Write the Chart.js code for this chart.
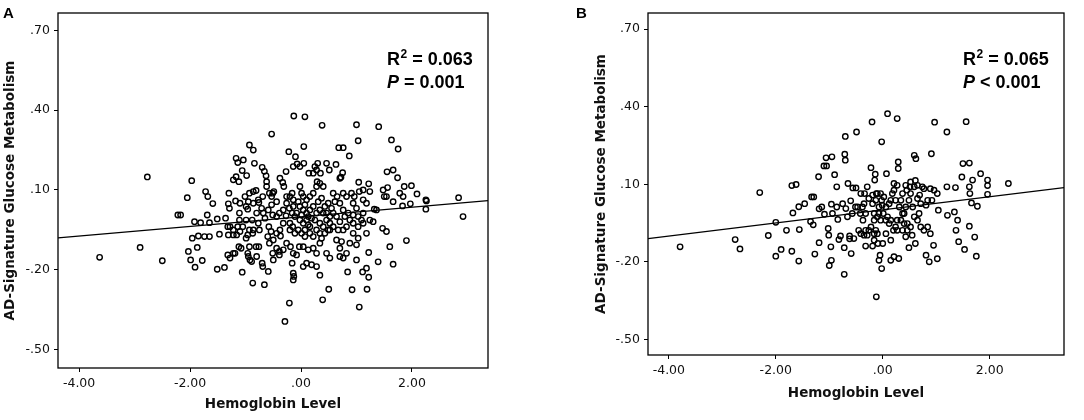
<!DOCTYPE html>
<html>
<head>
<meta charset="utf-8">
<script src="https://cdn.jsdelivr.net/npm/chart.js@4.4.0/dist/chart.umd.min.js"></script>
<style>
  html, body { margin: 0; padding: 0; background: #fff; }
  #wrap { position: relative; width: 1084px; height: 420px; }
  .panel { position: absolute; top: 0; width: 540px; height: 420px; }
</style>
</head>
<body>
<div id="wrap">
  <div class="panel" style="left:0"><canvas id="chartA" width="540" height="420"></canvas></div>
  <div class="panel" style="left:544px"><canvas id="chartB" width="540" height="420"></canvas></div>
</div>
<script>
// tick positions (same for both panels)
const xTicks = [-4, -2, 0, 2];
const yTicks = [0.7, 0.4, 0.1, -0.2, -0.5];

// panel A: hemoglobin level vs AD-signature glucose metabolism
const hbA = [
  -3.63,-2.90,-2.50,-2.77,-1.97,-2.05,-2.22,-2.17,-1.92,-1.81,
  -1.65,-1.51,-1.36,-1.96,-1.85,-1.74,-1.65,-2.03,-1.87,-1.99,
  -1.78,-1.91,-1.51,-1.38,-1.72,-1.68,-1.59,-1.69,-1.47,-1.30,
  -1.31,-1.29,-1.32,-1.28,-1.22,-1.31,-1.22,-1.32,-1.28,-1.22,
  -1.18,-1.17,-1.14,-1.12,-1.17,-1.22,-1.11,-1.11,-1.14,-1.05,
  -1.10,-1.16,-1.12,-1.08,-1.19,-1.06,-0.87,-0.66,-1.04,-1.06,
  -0.93,-0.86,-0.84,-0.98,-0.93,-0.95,-0.99,-0.96,-0.86,-0.81,
  -0.77,-0.99,-0.88,-0.93,-0.86,-0.77,-0.75,-0.96,-0.99,-0.87,
  -0.93,-0.96,-0.92,-0.89,-0.81,-0.76,-0.95,-0.80,-0.70,-0.69,
  -0.76,-0.69,-0.71,-0.68,-0.65,-0.70,-0.63,-0.62,-0.66,-0.53,
  -0.62,-0.57,-0.53,-0.51,-0.49,-0.59,-0.51,-0.44,-0.39,-0.32,
  -0.58,-0.54,-0.50,-0.44,-0.37,-0.60,-0.57,-0.51,-0.44,-0.39,
  -0.32,-0.59,-0.50,-0.39,-0.38,-0.33,-0.27,-0.31,-0.26,-0.21,
  -0.27,-0.20,-0.22,-0.16,-0.10,-0.14,-0.07,-0.20,-0.14,-0.16,
  -0.11,-0.08,-0.20,-0.15,-0.11,-0.05,-0.26,-0.19,-0.14,-0.08,
  -0.03,-0.21,-0.29,-0.14,-0.13,-0.14,-0.13,-0.16,0.07,0.05,
  -0.02,0.05,0.14,0.22,0.25,0.28,-0.02,0.01,0.04,0.10,
  0.16,0.22,0.28,0.34,0.40,-0.02,0.04,0.10,0.16,0.22,
  0.28,0.34,0.40,0.46,-0.02,0.04,0.10,0.16,0.25,0.34,
  0.40,0.46,0.52,0.01,0.07,0.16,0.22,0.34,0.43,0.52,
  0.04,0.13,0.22,0.28,0.34,0.46,0.52,0.04,0.10,0.19,
  0.28,0.34,0.38,0.39,0.50,0.29,0.30,0.46,0.51,0.35,
  0.63,0.68,0.76,0.87,0.75,0.72,0.70,0.58,0.65,0.76,
  0.82,0.91,0.96,1.05,1.12,1.18,0.58,0.64,0.76,0.85,
  0.94,1.03,1.12,0.58,0.67,0.76,0.88,0.94,1.03,1.12,
  0.64,0.73,0.88,1.00,1.03,0.70,0.70,0.76,0.82,1.00,
  0.84,0.92,1.05,1.11,1.18,1.19,1.22,1.00,1.03,1.04,
  1.12,1.22,1.24,1.32,1.36,1.24,1.30,1.18,1.22,1.39,
  1.40,1.63,1.75,1.55,1.66,1.74,1.56,1.48,1.50,1.54,
  1.66,1.78,1.86,1.84,1.99,2.09,1.97,1.83,2.25,2.26,
  2.25,2.84,2.92,1.47,1.54,1.60,1.66,1.90,
  -0.05,0.07,0.13,0.19,0.31,0.37,0.43,0.49,0.55,0.01,
  0.07,0.13,0.28,0.37,0.49,0.52,0.61,0.70,0.79,0.70,
  0.82,0.94,1.00,1.09,0.94,-0.14,-0.26,-0.32,-0.38,-0.44,
  -0.53,-0.80,-0.86,-1.01,-1.10
];
const glucA = [
  -0.153,-0.116,-0.166,0.149,0.135,0.071,0.006,0.006,-0.019,-0.023,
  -0.023,-0.009,-0.006,-0.081,-0.073,-0.075,-0.075,-0.131,-0.116,-0.163,
  -0.165,-0.190,-0.198,-0.191,0.094,0.075,0.049,0.006,-0.066,0.088,
  0.048,0.031,-0.038,-0.038,-0.050,-0.069,-0.069,-0.144,-0.156,-0.138,
  0.059,0.219,0.203,0.131,0.150,0.138,0.013,-0.013,-0.038,-0.038,
  -0.056,-0.069,-0.113,-0.119,-0.138,-0.209,-0.250,-0.256,0.213,0.173,
  0.269,0.250,0.200,0.154,0.088,0.056,0.038,0.028,0.094,0.098,
  0.063,-0.013,-0.013,-0.050,-0.050,-0.025,-0.050,-0.069,-0.081,-0.063,
  -0.113,-0.138,-0.163,-0.169,-0.113,-0.113,-0.150,-0.150,-0.175,-0.188,
  0.053,0.075,0.031,0.013,-0.006,0.185,0.153,0.131,0.170,0.310,
  0.113,0.088,0.075,0.088,0.094,0.025,0.006,0.000,0.013,0.025,
  -0.038,-0.056,-0.088,-0.063,-0.073,-0.075,-0.100,-0.138,-0.119,-0.131,
  -0.125,-0.206,-0.163,-0.144,0.144,0.128,0.169,0.113,0.050,0.031,
  0.003,-0.025,0.244,0.088,0.225,0.188,0.198,0.075,0.063,0.013,
  0.000,0.013,-0.050,-0.038,-0.063,-0.050,-0.100,-0.113,-0.138,-0.144,
  -0.113,-0.325,-0.394,-0.213,-0.225,-0.238,0.378,-0.175,0.375,0.263,
  0.188,0.200,0.163,0.163,0.188,0.175,0.113,0.088,0.075,0.063,
  0.075,0.088,0.113,0.125,0.113,0.038,0.025,0.013,0.025,0.038,
  0.013,0.025,0.013,0.013,-0.013,-0.025,-0.013,-0.038,-0.013,-0.025,
  -0.038,-0.013,-0.025,-0.063,-0.075,-0.063,-0.075,-0.063,-0.063,-0.050,
  -0.113,-0.125,-0.119,-0.138,-0.100,-0.138,-0.156,-0.188,-0.175,-0.181,
  -0.188,-0.220,0.343,-0.313,-0.273,0.131,0.200,0.200,0.175,0.163,
  0.196,0.259,0.259,0.228,0.165,0.148,0.144,0.088,0.075,0.088,
  0.075,0.088,0.075,0.094,0.063,0.050,0.013,0.000,0.025,0.013,
  0.006,0.000,0.013,-0.038,-0.050,-0.050,-0.013,-0.025,-0.038,-0.025,
  -0.088,-0.094,-0.100,-0.106,-0.081,-0.119,-0.150,-0.156,-0.138,-0.163,
  -0.208,-0.275,-0.340,-0.208,-0.194,-0.273,-0.228,0.345,0.285,0.129,
  0.100,0.123,0.094,0.028,0.025,-0.013,-0.019,-0.063,-0.135,-0.170,
  0.338,0.288,0.254,0.168,0.175,0.146,0.109,0.100,0.075,0.075,
  0.056,0.088,0.113,0.075,0.116,0.085,0.048,0.040,0.063,0.059,
  0.028,0.071,0.000,-0.044,-0.056,-0.113,-0.179,-0.090,
  0.056,0.044,0.000,-0.006,0.056,0.069,0.038,0.050,0.031,0.006,
  -0.050,-0.031,-0.050,-0.081,-0.050,0.000,0.056,0.050,0.000,-0.019,
  -0.038,0.050,0.031,-0.013,-0.063,0.038,0.075,-0.025,-0.050,0.056,
  0.044,0.013,0.050,0.075,0.050
];

// panel B
const hbB = [
  -3.79,-2.76,-2.67,-2.30,-2.14,-2.00,-2.00,-1.90,-1.80,-1.70,
  -1.70,-1.62,-1.68,-1.57,-1.56,-1.57,-1.46,-1.27,-1.33,-1.29,
  -1.35,-1.30,-1.20,-1.19,-1.19,-1.14,-1.10,-1.05,-1.06,-0.95,
  -1.09,-1.02,-1.01,-1.00,-0.96,-0.97,-0.96,-0.94,-0.90,-0.86,
  -0.86,-0.84,-0.82,-0.79,-0.72,-0.70,-0.71,-0.70,-0.65,-0.60,
  -0.62,-0.62,-0.59,-0.54,-0.56,-0.50,-0.49,-0.41,-0.35,-0.34,
  -0.32,-0.32,-0.29,-0.22,-0.20,-0.19,-0.19,-0.16,-0.16,-0.14,
  -0.15,-0.12,-0.10,-0.07,-0.05,-0.02,-0.02,-0.02,0.00,0.02,
  0.09,0.07,0.15,0.27,0.29,0.29,0.21,0.27,0.21,0.30,
  0.34,0.37,0.40,0.46,0.49,0.52,0.59,0.62,0.61,0.65,
  0.55,0.61,0.69,0.71,0.77,0.81,0.84,0.89,0.91,0.95,
  0.97,0.81,0.87,0.92,0.96,1.02,1.04,1.02,1.20,1.20,
  1.21,1.34,1.36,1.37,1.40,1.42,1.48,1.50,1.53,1.56,
  1.62,1.62,1.63,1.66,1.62,1.68,1.72,1.75,1.77,1.83,
  1.96,1.96,1.96,2.35,-0.12,-0.72,
  -0.47,-0.42,-0.37,-0.45,-0.41,-0.35,-0.29,-0.26,-0.22,-0.16,
  -0.13,-0.10,-0.07,-0.04,0.01,0.06,0.09,0.12,0.15,0.20,
  0.24,0.27,0.15,0.18,0.24,0.31,0.37,0.43,0.49,0.52,
  0.56,0.59,0.65,0.68,0.71,0.77,0.74,0.84,0.89,0.51,
  0.45,0.12,0.06,-0.01,-0.07,-0.13,-0.19,-0.26,-0.32,-0.38,
  -0.10,-0.04,-0.16,-0.09,0.06,0.15,0.27,0.37,0.43,0.46,
  0.52,0.34,0.40,
  0.21,0.43,0.59,0.65,-0.75,-0.69,-0.57,-0.51,-0.66
];
const glucB = [
  -0.142,-0.114,-0.150,0.068,-0.098,-0.047,-0.178,-0.152,-0.078,-0.159,
  0.095,0.099,-0.011,-0.197,-0.075,0.013,0.025,-0.170,0.051,0.051,
  -0.044,-0.057,0.129,0.005,-0.126,0.012,0.171,0.171,0.202,0.206,
  -0.016,-0.071,-0.097,-0.214,-0.194,-0.142,0.023,-0.013,0.137,0.090,
  0.012,-0.036,-0.114,-0.100,-0.145,0.285,0.216,0.193,0.103,0.036,
  -0.100,-0.111,-0.168,-0.110,0.086,0.086,0.302,0.064,0.025,0.064,
  -0.078,-0.139,0.090,0.164,0.341,-0.139,0.025,-0.013,-0.039,0.139,
  0.116,0.064,-0.091,-0.194,-0.174,-0.226,0.264,0.038,-0.129,0.051,
  0.373,0.141,-0.194,0.354,0.186,0.161,0.103,0.096,-0.180,-0.187,
  0.038,0.064,-0.013,-0.078,-0.145,0.109,0.212,0.199,0.115,0.045,
  -0.097,-0.129,0.058,0.025,0.083,0.019,-0.065,-0.091,0.218,-0.136,
  0.340,-0.174,-0.200,0.038,0.077,0.064,0.000,-0.188,0.302,0.090,
  -0.020,-0.007,0.087,-0.078,-0.039,-0.122,0.128,0.180,-0.152,0.342,
  0.182,0.090,0.064,0.028,-0.062,0.116,-0.104,-0.178,0.015,0.141,
  0.116,0.095,0.061,0.103,-0.335,-0.248,
  0.012,-0.013,-0.039,-0.078,-0.091,-0.097,-0.097,-0.078,-0.065,-0.091,
  -0.078,-0.026,-0.013,-0.039,-0.013,-0.039,-0.026,-0.052,-0.039,-0.078,
  -0.065,-0.039,0.038,0.064,0.038,0.012,-0.013,0.012,0.038,0.064,
  0.012,-0.026,-0.039,-0.013,-0.065,-0.078,0.090,0.038,0.083,0.090,
  0.077,0.025,0.012,0.019,0.012,0.038,0.058,0.045,-0.013,0.012,
  0.064,0.064,-0.116,-0.129,-0.091,-0.116,-0.078,-0.078,-0.103,-0.052,
  -0.065,-0.039,-0.052,
  0.077,0.096,0.090,0.096,0.025,0.006,-0.013,0.012,-0.026
];

// fitted lines: [intercept, slope]
const fitA = [-0.001, 0.018];
const fitB = [0.001, 0.0253];

const xRangeA = [-4.38, 3.37], yRangeA = [-0.569, 0.765];
const xRangeB = [-4.39, 3.39], yRangeB = [-0.560, 0.762];

function fmtTick(v) {
  let s = Math.abs(v).toFixed(2);
  if (s[0] === '0') s = s.slice(1);
  return (v < 0 ? '-' : '') + s;
}

const framePlugin = {
  id: 'frame',
  afterDraw(chart) {
    const { ctx, chartArea: a } = chart;
    ctx.save();
    ctx.strokeStyle = '#000';
    ctx.lineWidth = 1.3;
    ctx.strokeRect(a.left, a.top, a.right - a.left, a.bottom - a.top);
    ctx.restore();
  }
};

const statsPlugin = {
  id: 'stats',
  afterDraw(chart, args, opts) {
    const { ctx, chartArea: a } = chart;
    ctx.save();
    ctx.fillStyle = '#000';
    ctx.textBaseline = 'alphabetic';
    // panel letter
    ctx.font = 'bold 15px "Liberation Sans", Arial, sans-serif';
    ctx.fillText(opts.letter, opts.letterX, 18);

    let x = a.right - 101;
    const y1 = a.top + 51.5, y2 = a.top + 75;
    ctx.font = 'bold 18px "Liberation Sans", Arial, sans-serif';
    ctx.fillText('R', x, y1);
    x += ctx.measureText('R').width + 0.5;
    ctx.font = 'bold 12px "Liberation Sans", Arial, sans-serif';
    ctx.fillText('2', x, y1 - 7);
    x += ctx.measureText('2').width;
    ctx.font = 'bold 18px "Liberation Sans", Arial, sans-serif';
    ctx.fillText(' = ' + opts.r2, x, y1);

    x = a.right - 101;
    ctx.font = 'italic bold 18px "Liberation Sans", Arial, sans-serif';
    ctx.fillText('P', x, y2);
    x += ctx.measureText('P').width;
    ctx.font = 'bold 18px "Liberation Sans", Arial, sans-serif';
    ctx.fillText(' ' + opts.p, x, y2);
    ctx.restore();
  }
};

const tickFont = { family: '"DejaVu Sans", Verdana, sans-serif', size: 12.5 };
const titleFont = { family: '"DejaVu Sans", Verdana, sans-serif', size: 13.5, weight: 'bold' };

function makeChart(id, xs, ys, fit, xRange, yRange, box, stats) {
  const points = xs.map((x, i) => ({ x: x, y: ys[i] })).filter(p => p.y !== undefined);
  const line = xRange.map(x => ({ x: x, y: fit[0] + fit[1] * x }));
  return new Chart(document.getElementById(id), {
    type: 'scatter',
    data: {
      datasets: [
        {
          data: points,
          pointRadius: 2.7,
          pointHoverRadius: 2.7,
          pointBorderWidth: 1.4,
          borderColor: '#000',
          backgroundColor: 'rgba(0,0,0,0)'
        },
        {
          type: 'line',
          data: line,
          borderColor: '#000',
          borderWidth: 1.3,
          pointRadius: 0,
          fill: false
        }
      ]
    },
    options: {
      responsive: false,
      animation: false,
      events: [],
      layout: { padding: { left: box.padLeft, top: 13, right: box.padRight, bottom: box.padBottom } },
      plugins: {
        legend: { display: false },
        tooltip: { enabled: false },
        stats: stats
      },
      scales: {
        x: {
          type: 'linear',
          min: xRange[0],
          max: xRange[1],
          afterBuildTicks: s => { s.ticks = xTicks.map(v => ({ value: v })); },
          afterFit: s => { s.height = 52; },
          ticks: { callback: v => fmtTick(v), color: '#111', font: tickFont, padding: 4, maxRotation: 0, autoSkip: false },
          grid: { drawOnChartArea: false, tickLength: 4, color: '#000', lineWidth: 1 },
          border: { display: false },
          title: { display: true, text: 'Hemoglobin Level', color: '#111', font: titleFont, padding: { top: 0, bottom: box.xTitlePad } }
        },
        y: {
          type: 'linear',
          min: yRange[0],
          max: yRange[1],
          afterBuildTicks: s => { s.ticks = yTicks.map(v => ({ value: v })); },
          afterFit: s => { s.width = box.yWidth; },
          ticks: { callback: v => fmtTick(v), color: '#111', font: tickFont, padding: 4, autoSkip: false },
          grid: { drawOnChartArea: false, tickLength: 4, color: '#000', lineWidth: 1 },
          border: { display: false },
          title: { display: true, text: 'AD-Signature Glucose Metabolism', color: '#111', font: titleFont, padding: { top: 2, bottom: 0 } }
        }
      }
    },
    plugins: [framePlugin, statsPlugin]
  });
}

makeChart('chartA', hbA, glucA, fitA, xRangeA, yRangeA,
  { padLeft: 0, padRight: 52, padBottom: 0, yWidth: 58, xTitlePad: 7 },
  { letter: 'A', letterX: 3, r2: '0.063', p: '= 0.001' });

makeChart('chartB', hbB, glucB, fitB, xRangeB, yRangeB,
  { padLeft: 47, padRight: 20, padBottom: 13, yWidth: 57, xTitlePad: 5 },
  { letter: 'B', letterX: 32, r2: '0.065', p: '< 0.001' });
</script>
</body>
</html>
